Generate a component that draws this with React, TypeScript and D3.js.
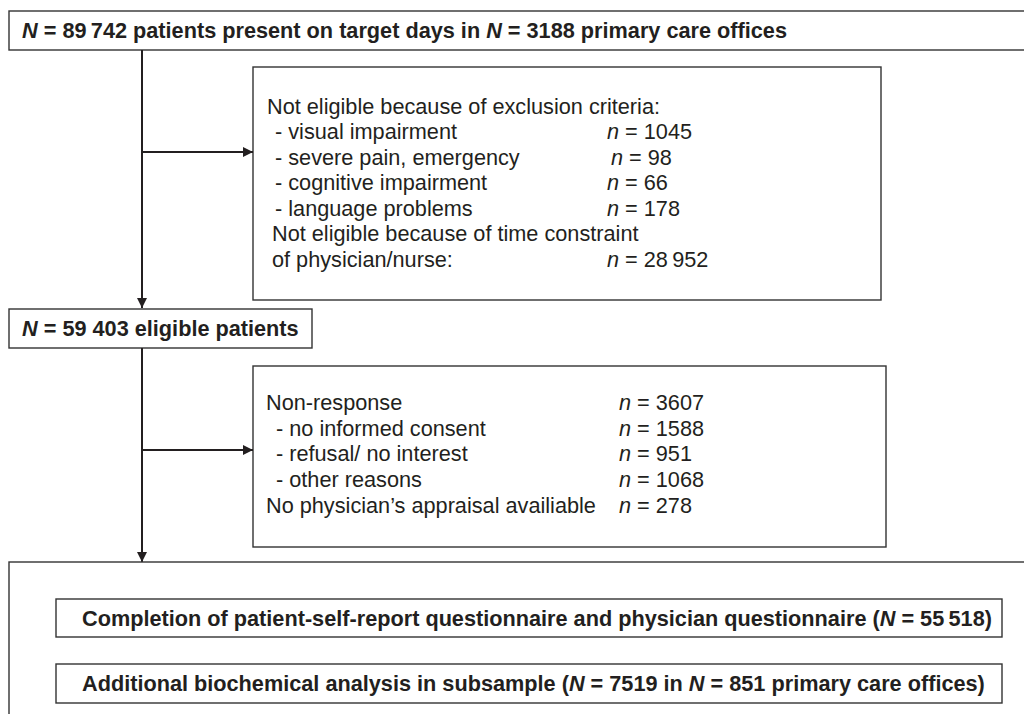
import React, { useEffect, useRef } from 'react';
import * as d3 from 'd3';

// flow counts
const totalPatients = 89742;
const totalOffices = 3188;
const eligiblePatients = 59403;
const completedPatients = 55518;
const subsamplePatients = 7519;
const subsampleOffices = 851;

// exclusion box
const exclusionLabels = ['- visual impairment', '- severe pain, emergency', '- cognitive impairment', '- language problems'];
const exclusionCounts = [1045, 98, 66, 178];
const timeConstraintLabels = ['Not eligible because of time constraint', 'of physician/nurse:'];
const timeConstraintCount = 28952;

// non-response box
const nonResponseLabels = ['- no informed consent', '- refusal/ no interest', '- other reasons'];
const nonResponseCounts = [1588, 951, 1068];
const nonResponseTotal = 3607;
const noAppraisalLabel = 'No physician\u2019s appraisal availiable';
const noAppraisalCount = 278;

const W = 1024;
const H = 714;
const FONT = '"Liberation Sans", Arial, Helvetica, sans-serif';
const FS = 21.7;
const INK = '#231f20';
const LINE = '#333';

const thin = d3.formatLocale({ decimal: '.', thousands: '\u2009', grouping: [3], currency: ['', ''] }).format(',');
const fmt = (v: number) => (v >= 10000 ? thin(v) : String(v));

type Part = { t: string; i?: boolean };

const App = () => {
  const ref = useRef<SVGSVGElement>(null);

  useEffect(() => {
    const svg = d3.select(ref.current);
    svg.selectAll('*').remove();

    const defs = svg.append('defs');
    defs.append('marker')
      .attr('id', 'arr')
      .attr('viewBox', '0 0 10 10')
      .attr('refX', 10)
      .attr('refY', 5)
      .attr('markerWidth', 11)
      .attr('markerHeight', 10)
      .attr('markerUnits', 'userSpaceOnUse')
      .attr('orient', 'auto')
      .append('path')
      .attr('d', 'M0,0 L10,5 L0,10 Z')
      .attr('fill', INK);

    const box = (x0: number, y0: number, x1: number, y1: number) =>
      svg.append('rect')
        .attr('x', x0).attr('y', y0)
        .attr('width', x1 - x0).attr('height', y1 - y0)
        .attr('fill', 'none')
        .attr('stroke', LINE)
        .attr('stroke-width', 1.4);

    const text = (x: number, cy: number, parts: Part[], bold = false) => {
      const t = svg.append('text')
        .attr('x', x)
        .attr('y', cy + FS * 0.36)
        .attr('font-family', FONT)
        .attr('font-size', FS)
        .attr('font-weight', bold ? 'bold' : 'normal')
        .attr('fill', INK)
        .style('white-space', 'pre');
      parts.forEach(p => {
        t.append('tspan')
          .attr('font-style', p.i ? 'italic' : 'normal')
          .text(p.t);
      });
      return t;
    };

    const arrow = (x0: number, y0: number, x1: number, y1: number) =>
      svg.append('line')
        .attr('x1', x0).attr('y1', y0)
        .attr('x2', x1).attr('y2', y1)
        .attr('stroke', INK)
        .attr('stroke-width', 2)
        .attr('marker-end', 'url(#arr)');

    // main spine
    const spineX = 142;

    // top box
    box(9, 11, W + 10, 50);
    text(22, 30, [
      { t: 'N', i: true }, { t: ' = ' + fmt(totalPatients) + ' patients present on target days in ' },
      { t: 'N', i: true }, { t: ' = ' + totalOffices + ' primary care offices' },
    ], true);

    // exclusion box
    const row1 = d3.scaleLinear().domain([0, 6]).range([106, 259]);
    box(253, 67, 881, 300);
    arrow(spineX, 50, spineX, 308);
    arrow(spineX, 152, 253, 152);
    text(267, row1(0), [{ t: 'Not eligible because of exclusion criteria:' }]);
    exclusionLabels.forEach((l, i) => {
      text(275, row1(i + 1), [{ t: l }]);
      text(i === 1 ? 611 : 607, row1(i + 1), [{ t: 'n', i: true }, { t: ' = ' + fmt(exclusionCounts[i]) }]);
    });
    timeConstraintLabels.forEach((l, i) => {
      text(272, row1(i + 5), [{ t: l }]);
    });
    text(607, row1(6), [{ t: 'n', i: true }, { t: ' = ' + fmt(timeConstraintCount) }]);

    // eligible box
    box(9, 309, 312, 348);
    const elig = String(eligiblePatients).replace(/(\d\d)(\d{3})/, '$1 $2');
    text(22, 328, [{ t: 'N', i: true }, { t: ' = ' + elig + ' eligible patients' }], true);

    // non-response box
    const row2 = d3.scaleLinear().domain([0, 4]).range([402, 505]);
    box(253, 366, 886, 547);
    arrow(spineX, 348, spineX, 562);
    arrow(spineX, 450, 253, 450);
    text(266, row2(0), [{ t: 'Non-response' }]);
    text(619, row2(0), [{ t: 'n', i: true }, { t: ' = ' + fmt(nonResponseTotal) }]);
    nonResponseLabels.forEach((l, i) => {
      text(276, row2(i + 1), [{ t: l }]);
      text(619, row2(i + 1), [{ t: 'n', i: true }, { t: ' = ' + fmt(nonResponseCounts[i]) }]);
    });
    text(266, row2(4), [{ t: noAppraisalLabel }]);
    text(619, row2(4), [{ t: 'n', i: true }, { t: ' = ' + fmt(noAppraisalCount) }]);

    // final box
    box(9, 562, W + 10, H + 10);
    box(56, 599, 1002, 637);
    text(82, 618, [
      { t: 'Completion of patient-self-report questionnaire and physician questionnaire (' },
      { t: 'N', i: true }, { t: ' = ' + fmt(completedPatients) + ')' },
    ], true);
    box(56, 664, 1002, 703);
    text(82, 683, [
      { t: 'Additional biochemical analysis in subsample (' },
      { t: 'N', i: true }, { t: ' = ' + subsamplePatients + ' in ' },
      { t: 'N', i: true }, { t: ' = ' + subsampleOffices + ' primary care offices)' },
    ], true);
  }, []);

  return (
    <svg
      ref={ref}
      width={W}
      height={H}
      style={{ position: 'absolute', left: 0, top: 0, background: '#fff' }}
    />
  );
};

export default App;
